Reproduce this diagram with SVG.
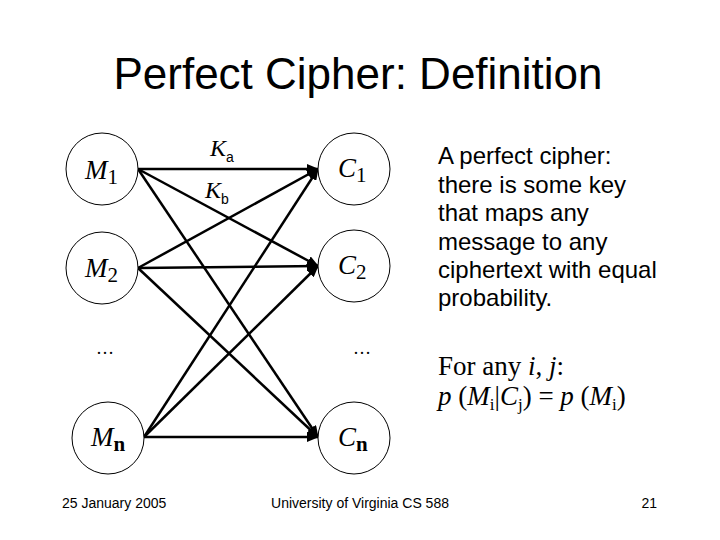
<svg xmlns="http://www.w3.org/2000/svg" width="720" height="540" viewBox="0 0 720 540">
<style>
.node circle{fill:#fff;stroke:#000;stroke-width:1}
.lbl{font-family:"Liberation Serif","Times New Roman",serif;font-size:27px;font-style:italic;fill:#000}
.sub{font-style:normal;font-size:21px}
.subb{font-style:normal;font-size:21px;font-weight:bold}
.edge line{stroke:#000;stroke-width:2.5;marker-end:url(#ah)}
.sans{font-family:"Liberation Sans",Arial,sans-serif;fill:#000}
.serif{font-family:"Liberation Serif","Times New Roman",serif;fill:#000}
</style>
<defs>
<marker id="ah" markerUnits="userSpaceOnUse" markerWidth="12" markerHeight="10" viewBox="0 0 12 10" refX="11" refY="5" orient="auto">
<path d="M0,0 L12,5 L0,10 z" fill="#000"/>
</marker>
</defs>
<rect width="720" height="540" fill="#fff"/>
<text class="sans" x="358" y="89" font-size="44" text-anchor="middle">Perfect Cipher: Definition</text>
<g id="connectors" class="edge">
<line x1="138" y1="169" x2="318" y2="169"/>
<line x1="138" y1="169" x2="318" y2="266"/>
<line x1="138" y1="169" x2="318" y2="437"/>
<line x1="138" y1="268" x2="318" y2="169"/>
<line x1="138" y1="268" x2="318" y2="266"/>
<line x1="138" y1="268" x2="318" y2="437"/>
<line x1="144" y1="437" x2="318" y2="169"/>
<line x1="144" y1="437" x2="318" y2="266"/>
<line x1="144" y1="437" x2="318" y2="437"/>
</g>
<g id="key-labels">
<text class="serif" x="210" y="156" font-size="24" font-style="italic">K<tspan class="sans" font-style="normal" font-size="14" dy="6">a</tspan></text>
<text class="serif" x="205" y="198" font-size="24" font-style="italic">K<tspan class="sans" font-style="normal" font-size="14" dy="6">b</tspan></text>
</g>
<g id="M1" class="node"><circle cx="102" cy="169" r="36"/><text class="lbl" x="85" y="179">M<tspan class="sub" dy="5">1</tspan></text></g>
<g id="M2" class="node"><circle cx="102" cy="268" r="36"/><text class="lbl" x="85" y="277">M<tspan class="sub" dy="5">2</tspan></text></g>
<g id="Mn" class="node"><circle cx="108" cy="438" r="36"/><text class="lbl" x="91" y="446">M<tspan class="subb" dy="5">n</tspan></text></g>
<g id="C1" class="node"><circle cx="354" cy="169" r="36"/><text class="lbl" x="338" y="177">C<tspan class="sub" dy="5">1</tspan></text></g>
<g id="C2" class="node"><circle cx="354" cy="266" r="36"/><text class="lbl" x="338" y="274">C<tspan class="sub" dy="5">2</tspan></text></g>
<g id="Cn" class="node"><circle cx="354" cy="438" r="36"/><text class="lbl" x="338" y="446">C<tspan class="subb" dy="5">n</tspan></text></g>
<text class="serif" x="105" y="354" font-size="18" text-anchor="middle">…</text>
<text class="serif" x="362" y="354" font-size="18" text-anchor="middle">…</text>
<g id="description" class="sans" font-size="24">
<text x="438" y="164">A perfect cipher:</text>
<text x="438" y="193">there is some key</text>
<text x="438" y="221">that maps any</text>
<text x="438" y="250">message to any</text>
<text x="438" y="278">ciphertext with equal</text>
<text x="438" y="306">probability.</text>
</g>
<g id="formula" class="serif" font-size="27">
<text x="438" y="375">For any <tspan font-style="italic">i</tspan>, <tspan font-style="italic">j</tspan>:</text>
<text x="438" y="405"><tspan font-style="italic">p</tspan> (<tspan font-style="italic">M</tspan><tspan font-size="17" dy="5">i</tspan><tspan dy="-5">|</tspan><tspan font-style="italic">C</tspan><tspan font-size="17" dy="5">j</tspan><tspan dy="-5">) = </tspan><tspan font-style="italic">p</tspan> (<tspan font-style="italic">M</tspan><tspan font-size="17" dy="5">i</tspan><tspan dy="-5">)</tspan></text>
</g>
<g id="footer" class="sans" font-size="14">
<text x="62" y="508">25 January 2005</text>
<text x="360" y="508" text-anchor="middle">University of Virginia CS 588</text>
<text x="657" y="508" text-anchor="end">21</text>
</g>
</svg>
